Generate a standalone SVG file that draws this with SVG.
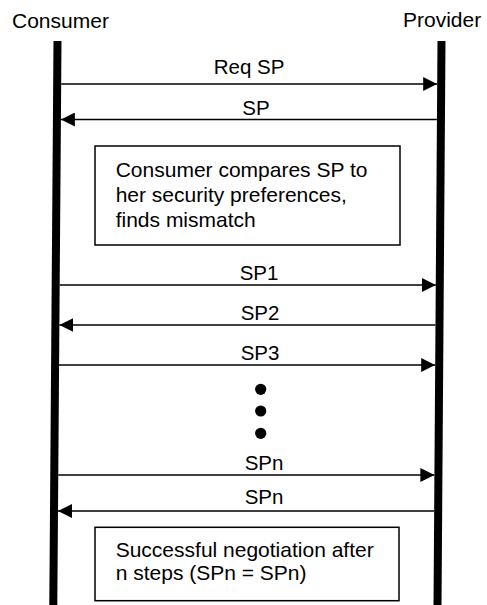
<svg xmlns="http://www.w3.org/2000/svg" width="487" height="605" viewBox="0 0 487 605">
<style>
text{font-family:"Liberation Sans",Arial,sans-serif;font-size:20.5px;fill:#000}
.t{font-size:21px}
.life{stroke:#000;stroke-width:8;fill:none}
.msg{stroke:#000;stroke-width:1.4;fill:none}
.box{fill:#fff;stroke:#000;stroke-width:1.5}
</style>
<defs>
<marker id="ah" viewBox="0 0 14 14" refX="14" refY="7" markerWidth="14" markerHeight="14" markerUnits="userSpaceOnUse" orient="auto">
<path d="M0,0 L14,7 L0,14 Z" fill="#000"/>
</marker>
</defs>
<rect width="487" height="605" fill="#fff"/>
<g id="consumer">
<text class="t" x="12" y="28">Consumer</text>
<line class="life" x1="57.5" y1="41" x2="53.3" y2="605"/>
</g>
<g id="provider">
<text class="t" x="403" y="27">Provider</text>
<line class="life" x1="441.5" y1="41" x2="437.5" y2="605"/>
</g>
<g id="connectors">
<line class="msg" x1="61.2" y1="84" x2="437.2" y2="84" marker-end="url(#ah)"/>
<text x="249" y="74" text-anchor="middle">Req SP</text>
<line class="msg" x1="436.9" y1="119.5" x2="60.9" y2="119.5" marker-end="url(#ah)"/>
<text x="256" y="115" text-anchor="middle">SP</text>
<line class="msg" x1="59.7" y1="285" x2="435.8" y2="285" marker-end="url(#ah)"/>
<text x="259" y="279.5" text-anchor="middle">SP1</text>
<line class="msg" x1="435.5" y1="325" x2="59.4" y2="325" marker-end="url(#ah)"/>
<text x="260" y="320" text-anchor="middle">SP2</text>
<line class="msg" x1="59.1" y1="365" x2="435.2" y2="365" marker-end="url(#ah)"/>
<text x="260" y="360" text-anchor="middle">SP3</text>
<line class="msg" x1="58.3" y1="475" x2="434.4" y2="475" marker-end="url(#ah)"/>
<text x="264" y="470" text-anchor="middle">SPn</text>
<line class="msg" x1="434.2" y1="511" x2="58" y2="511" marker-end="url(#ah)"/>
<text x="264" y="503.5" text-anchor="middle">SPn</text>
</g>
<g id="ellipsis">
<circle cx="260.7" cy="389.3" r="5.6"/>
<circle cx="260.7" cy="411" r="5.6"/>
<circle cx="260.7" cy="433.3" r="5.6"/>
</g>
<g id="box1">
<rect class="box" x="95" y="146" width="305" height="99"/>
<text class="t" x="115.7" y="176.7">Consumer compares SP to</text>
<text class="t" x="115.7" y="201.7">her security preferences,</text>
<text class="t" x="115.7" y="226.7">finds mismatch</text>
</g>
<g id="box2">
<rect class="box" x="95" y="527.3" width="304" height="73.4"/>
<text class="t" x="115.7" y="556.7">Successful negotiation after</text>
<text class="t" x="115.7" y="580">n steps (SPn = SPn)</text>
</g>
</svg>
